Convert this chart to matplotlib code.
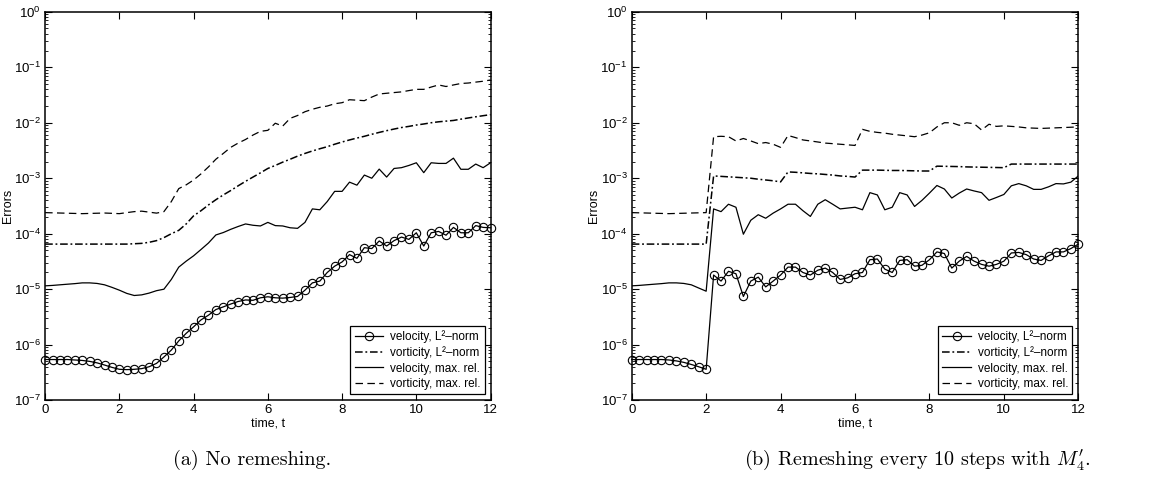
import numpy as np
import matplotlib
matplotlib.use("Agg")
import matplotlib.pyplot as plt
from matplotlib.ticker import LogLocator, NullFormatter, FixedLocator

plt.rcParams['font.family'] = ['Liberation Sans', 'DejaVu Sans']

# time grid of the sampled output (every 0.2)
t = np.linspace(0, 12, 61)

# ---- (a) no remeshing ----
a_vel_l2 = [5.4e-7, 5.4e-7, 5.4e-7, 5.4e-7, 5.3e-7, 5.2e-7, 5.0e-7, 4.7e-7, 4.3e-7, 3.9e-7,
            3.6e-7, 3.55e-7, 3.6e-7, 3.7e-7, 4.0e-7, 4.6e-7, 6.0e-7, 8.0e-7, 1.17e-6, 1.6e-6,
            2.1e-6, 2.8e-6, 3.4e-6, 4.3e-6, 4.8e-6, 5.4e-6, 6.0e-6, 6.4e-6, 6.3e-6, 7.0e-6,
            7.3e-6, 7.0e-6, 6.9e-6, 7.1e-6, 7.4e-6, 9.6e-6, 1.3e-5, 1.4e-5, 2.0e-5, 2.6e-5,
            3.1e-5, 4.2e-5, 3.6e-5, 5.6e-5, 5.4e-5, 7.4e-5, 6.0e-5, 7.5e-5, 8.7e-5, 7.9e-5,
            1.04e-4, 6.0e-5, 1.04e-4, 1.1e-4, 9.4e-5, 1.3e-4, 1.04e-4, 1.04e-4, 1.4e-4, 1.3e-4,
            1.28e-4]

a_vel_max = [1.15e-5, 1.17e-5, 1.2e-5, 1.23e-5, 1.26e-5, 1.3e-5, 1.3e-5, 1.27e-5, 1.2e-5, 1.08e-5,
             9.6e-6, 8.4e-6, 7.7e-6, 7.9e-6, 8.5e-6, 9.4e-6, 1.0e-5, 1.5e-5, 2.5e-5, 3.2e-5,
             4.0e-5, 5.2e-5, 6.8e-5, 9.5e-5, 1.05e-4, 1.2e-4, 1.35e-4, 1.5e-4, 1.42e-4, 1.38e-4,
             1.6e-4, 1.4e-4, 1.38e-4, 1.28e-4, 1.25e-4, 1.6e-4, 2.8e-4, 2.7e-4, 3.8e-4, 5.8e-4,
             5.8e-4, 8.5e-4, 7.5e-4, 1.14e-3, 1.0e-3, 1.46e-3, 1.05e-3, 1.5e-3, 1.55e-3, 1.7e-3,
             1.9e-3, 1.26e-3, 1.9e-3, 1.85e-3, 1.85e-3, 2.3e-3, 1.45e-3, 1.45e-3, 1.8e-3, 1.55e-3,
             1.9e-3]

a_vort_l2 = [6.5e-5, 6.5e-5, 6.5e-5, 6.5e-5, 6.5e-5, 6.5e-5, 6.5e-5, 6.5e-5, 6.5e-5, 6.5e-5,
             6.5e-5, 6.5e-5, 6.6e-5, 6.7e-5, 7.0e-5, 7.5e-5, 8.5e-5, 1.0e-4, 1.15e-4, 1.5e-4,
             2.1e-4, 2.6e-4, 3.3e-4, 4.1e-4, 5.0e-4, 6.0e-4, 7.3e-4, 8.8e-4, 1.05e-3, 1.25e-3,
             1.5e-3, 1.7e-3, 1.95e-3, 2.2e-3, 2.5e-3, 2.8e-3, 3.1e-3, 3.4e-3, 3.7e-3, 4.1e-3,
             4.5e-3, 4.9e-3, 5.3e-3, 5.7e-3, 6.2e-3, 6.7e-3, 7.2e-3, 7.7e-3, 8.2e-3, 8.6e-3,
             9.1e-3, 9.5e-3, 1.0e-2, 1.04e-2, 1.07e-2, 1.1e-2, 1.16e-2, 1.22e-2, 1.28e-2, 1.34e-2,
             1.4e-2]

a_vort_max = [2.4e-4, 2.38e-4, 2.36e-4, 2.34e-4, 2.32e-4, 2.3e-4, 2.32e-4, 2.34e-4, 2.36e-4, 2.33e-4,
              2.3e-4, 2.4e-4, 2.5e-4, 2.55e-4, 2.45e-4, 2.35e-4, 2.5e-4, 3.8e-4, 6.5e-4, 7.6e-4,
              9.3e-4, 1.2e-3, 1.6e-3, 2.2e-3, 2.8e-3, 3.6e-3, 4.3e-3, 5.0e-3, 6.0e-3, 7.0e-3,
              7.3e-3, 9.8e-3, 8.7e-3, 1.2e-2, 1.35e-2, 1.58e-2, 1.75e-2, 1.9e-2, 2.0e-2, 2.2e-2,
              2.3e-2, 2.6e-2, 2.55e-2, 2.5e-2, 2.9e-2, 3.3e-2, 3.4e-2, 3.5e-2, 3.6e-2, 3.8e-2,
              4.0e-2, 4.0e-2, 4.4e-2, 4.8e-2, 4.5e-2, 4.8e-2, 5.1e-2, 5.2e-2, 5.4e-2, 5.6e-2,
              5.9e-2]

# ---- (b) remeshing every 10 steps ----
b_vel_l2 = [5.4e-7, 5.4e-7, 5.4e-7, 5.4e-7, 5.4e-7, 5.3e-7, 5.1e-7, 4.8e-7, 4.4e-7, 4.0e-7,
            3.6e-7, 1.8e-5, 1.4e-5, 2.1e-5, 1.9e-5, 7.4e-6, 1.4e-5, 1.65e-5, 1.1e-5, 1.4e-5,
            1.8e-5, 2.5e-5, 2.5e-5, 2.0e-5, 1.8e-5, 2.2e-5, 2.4e-5, 2.0e-5, 1.5e-5, 1.6e-5,
            1.9e-5, 2.0e-5, 3.4e-5, 3.5e-5, 2.3e-5, 2.0e-5, 3.3e-5, 3.4e-5, 2.6e-5, 2.7e-5,
            3.4e-5, 4.7e-5, 4.4e-5, 2.4e-5, 3.2e-5, 3.9e-5, 3.2e-5, 2.8e-5, 2.6e-5, 2.8e-5,
            3.2e-5, 4.5e-5, 4.6e-5, 4.2e-5, 3.5e-5, 3.3e-5, 4.0e-5, 4.7e-5, 4.7e-5, 5.4e-5,
            6.5e-5]

b_vel_max = [1.15e-5, 1.17e-5, 1.2e-5, 1.23e-5, 1.26e-5, 1.3e-5, 1.3e-5, 1.27e-5, 1.2e-5, 1.05e-5,
             9.2e-6, 2.8e-4, 2.5e-4, 3.4e-4, 3.0e-4, 9.8e-5, 1.75e-4, 2.2e-4, 1.9e-4, 2.35e-4,
             2.8e-4, 3.4e-4, 3.4e-4, 2.6e-4, 2.05e-4, 3.4e-4, 4.1e-4, 3.4e-4, 2.8e-4, 2.9e-4,
             3.0e-4, 2.7e-4, 5.5e-4, 5.0e-4, 2.7e-4, 3.0e-4, 5.5e-4, 5.0e-4, 3.1e-4, 4.0e-4,
             5.4e-4, 7.4e-4, 6.4e-4, 4.4e-4, 5.4e-4, 6.4e-4, 5.9e-4, 5.5e-4, 4.0e-4, 4.5e-4,
             5.1e-4, 7.3e-4, 8.0e-4, 7.3e-4, 6.3e-4, 6.3e-4, 7.0e-4, 8.0e-4, 7.9e-4, 8.5e-4,
             1.1e-3]

b_vort_l2 = [6.5e-5, 6.5e-5, 6.5e-5, 6.5e-5, 6.5e-5, 6.5e-5, 6.5e-5, 6.5e-5, 6.5e-5, 6.5e-5,
             6.5e-5, 1.1e-3, 1.08e-3, 1.06e-3, 1.04e-3, 1.02e-3, 1.0e-3, 9.6e-4, 9.3e-4, 9.0e-4,
             8.6e-4, 1.3e-3, 1.28e-3, 1.25e-3, 1.22e-3, 1.2e-3, 1.17e-3, 1.14e-3, 1.1e-3, 1.08e-3,
             1.05e-3, 1.4e-3, 1.4e-3, 1.4e-3, 1.39e-3, 1.38e-3, 1.38e-3, 1.37e-3, 1.36e-3, 1.35e-3,
             1.35e-3, 1.65e-3, 1.64e-3, 1.63e-3, 1.62e-3, 1.6e-3, 1.59e-3, 1.58e-3, 1.57e-3, 1.56e-3,
             1.55e-3, 1.8e-3, 1.8e-3, 1.8e-3, 1.8e-3, 1.8e-3, 1.8e-3, 1.8e-3, 1.8e-3, 1.8e-3,
             1.8e-3]

b_vort_max = [2.4e-4, 2.38e-4, 2.36e-4, 2.34e-4, 2.32e-4, 2.3e-4, 2.32e-4, 2.34e-4, 2.36e-4, 2.38e-4,
              2.4e-4, 5.6e-3, 5.7e-3, 5.6e-3, 4.7e-3, 5.2e-3, 4.7e-3, 4.2e-3, 4.4e-3, 4.1e-3,
              3.6e-3, 5.9e-3, 5.4e-3, 4.9e-3, 4.7e-3, 4.5e-3, 4.3e-3, 4.2e-3, 4.1e-3, 4.0e-3,
              3.9e-3, 7.6e-3, 7.0e-3, 6.7e-3, 6.5e-3, 6.2e-3, 6.0e-3, 5.8e-3, 5.6e-3, 6.0e-3,
              6.6e-3, 8.4e-3, 1.0e-2, 1.0e-2, 9.0e-3, 1.0e-2, 9.6e-3, 7.4e-3, 9.4e-3, 8.6e-3,
              8.8e-3, 8.6e-3, 8.4e-3, 8.1e-3, 8.0e-3, 7.9e-3, 8.0e-3, 8.1e-3, 8.2e-3, 8.3e-3,
              8.4e-3]

labels = ["velocity, L²–norm", "vorticity, L²–norm", "velocity, max. rel.", "vorticity, max. rel."]
captions = ["(a) No remeshing.", r"(b) Remeshing every 10 steps with $M_4'$."]

fig = plt.figure(figsize=(11.57, 4.91), dpi=100)
ax_a = fig.add_axes([0.039, 0.185, 0.385, 0.791])
ax_b = fig.add_axes([0.546, 0.185, 0.386, 0.791])

panels = [(ax_a, a_vel_l2, a_vort_l2, a_vel_max, a_vort_max),
          (ax_b, b_vel_l2, b_vort_l2, b_vel_max, b_vort_max)]

for ax, vel_l2, vort_l2, vel_max, vort_max in panels:
    ax.semilogy(t, vel_l2, color='black', lw=0.9, marker='o', ms=6,
                mfc='none', mew=0.8, label=labels[0], clip_on=False, zorder=3)
    ax.semilogy(t, vort_l2, color='black', lw=1.1, dashes=(5, 1.8, 1.2, 1.8), label=labels[1])
    ax.semilogy(t, vel_max, color='black', lw=0.9, label=labels[2])
    ax.semilogy(t, vort_max, color='black', lw=0.9, dashes=(6, 3.5), label=labels[3])

    ax.set_xlim(0, 12)
    ax.set_ylim(1e-7, 1)
    ax.xaxis.set_major_locator(FixedLocator([0, 2, 4, 6, 8, 10, 12]))
    ax.yaxis.set_major_locator(LogLocator(base=10, numticks=10))
    ax.yaxis.set_minor_locator(LogLocator(base=10, subs=np.arange(2, 10), numticks=10))
    ax.yaxis.set_minor_formatter(NullFormatter())
    ax.tick_params(which='both', direction='in', top=True, right=True, labelsize=9.5, pad=3)
    ax.tick_params(which='major', length=5, width=0.8)
    ax.tick_params(which='minor', length=2.5, width=0.6)
    for s in ax.spines.values():
        s.set_linewidth(1.1)
    ax.set_xlabel("time, t", fontsize=9, labelpad=1)
    ax.set_ylabel("Errors", fontsize=9, labelpad=0)
    leg = ax.legend(loc='lower right', fontsize=8.5, frameon=True, fancybox=False,
                    edgecolor='black', framealpha=1, handlelength=2.4,
                    borderaxespad=0.5, labelspacing=0.3, handletextpad=0.6,
                    borderpad=0.35)
    leg.get_frame().set_linewidth(0.9)

fig.text(0.218, 0.063, captions[0], ha='center', va='center', fontsize=14.5,
         family='cmr10', math_fontfamily='cm')
fig.text(0.793, 0.063, captions[1], ha='center', va='center', fontsize=14.5,
         family='cmr10', math_fontfamily='cm')

fig.savefig("out.png", dpi=100)
